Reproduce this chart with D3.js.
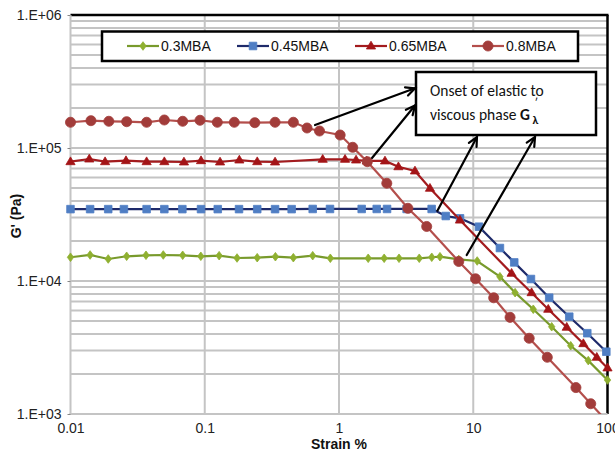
<!DOCTYPE html>
<html><head><meta charset="utf-8">
<script src="https://cdn.jsdelivr.net/npm/d3@7"></script>
<style>html,body{margin:0;padding:0;background:#fff}svg{display:block}</style>
</head><body><svg id="c" width="615" height="452"></svg>
<script>
// ---- data ----
const seriesNames = ["0.3MBA", "0.45MBA", "0.65MBA", "0.8MBA"];
const strain03 = [0.01,0.014,0.0191,0.0262,0.0365,0.0491,0.0685,0.0935,0.128,0.174,0.246,0.336,0.457,0.637,0.862,1.65,2.17,2.8,3.96,4.91,5.65,7.8,10.7,15.8,20.5,28,38.4,53.2,71.9,100];
const g03 = [15080,15690,14640,15340,15610,15690,15610,15340,15500,14890,14970,15230,14970,15500,14820,14820,14820,14820,14820,15080,15230,14520,14140,10770,8170,6130,4530,3260,2520,1800];
const strain045 = [0.01,0.014,0.0191,0.025,0.0369,0.05,0.0681,0.0938,0.125,0.18,0.246,0.334,0.444,0.637,0.857,1.476,1.91,2.28,3.19,4.9,6.24,7.97,11.03,15.8,20.2,26.9,36.8,51.9,70.7,98];
const g045 = [34700,34700,34700,34700,34700,34700,34700,34700,34700,34700,34700,34700,34700,34800,34800,34800,34800,34800,34800,34800,30800,29600,25600,17700,13800,10350,7490,5390,4050,2940];
const strain065 = [0.01,0.0138,0.0181,0.0259,0.0369,0.05,0.07,0.0938,0.13,0.181,0.246,0.334,0.756,1.109,1.34,1.61,2.2,2.77,3.68,4.76,7.96,19.3,27.2,36.2,49.7,66.1,83.2,100];
const g065 = [78900,82650,78900,80300,78900,78900,78500,80300,78500,81250,78900,78500,82200,82200,81250,79900,79900,72300,67200,49800,28700,11430,8170,6130,4490,3380,2670,2220];
const strain08 = [0.01,0.0142,0.0193,0.0262,0.0369,0.05,0.0685,0.0922,0.124,0.166,0.236,0.334,0.457,0.578,0.716,1.02,1.265,1.625,2.27,3.26,4.5,7.8,10.4,14.2,18.8,26.1,35.6,58.2,75,100];
const g08 = [156100,160500,158800,157700,156100,162400,158800,161600,156100,156100,155000,156100,156100,141400,134200,125200,101200,78900,54300,35200,25700,14020,10390,7480,5330,3710,2670,1580,1195,870];
const xTicks = [0.01, 0.1, 1, 10, 100];
const yTicks = [1e3, 1e4, 1e5, 1e6];
const xTitle = "Strain %";
const yTitle = "G' (Pa)";
// annotation arrows: [tailStrain, tailG, headStrain, headG]
const arrows = [
  [0.663, 148900, 3.68, 281100],
  [1.762, 84080, 3.68, 208700],
  [5.42, 33890, 10.66, 121000],
  [8.94, 15690, 28.84, 121000]
];
const noteBox = [3.746, 372700, 82.1, 125200];

// ---- chart ----
const svg = d3.select("#c");
const L = 70.5, R = 607.5, T = 15, B = 414;
const x = d3.scaleLog().domain([0.01, 100]).range([L, R]);
const y = d3.scaleLog().domain([1e3, 1e6]).range([B, T]);
const gridC = "#c4c4c4";
const tickFont = "Liberation Sans, Arial, sans-serif";

// gridlines
const minorY = [];
for (let k = 3; k < 6; k++) for (let m = 1; m < 10; m++) minorY.push(m * Math.pow(10, k));
svg.append("g").selectAll("line").data(minorY.filter(v => v > 1e3)).join("line")
  .attr("x1", L).attr("x2", R).attr("y1", d => y(d)).attr("y2", d => y(d))
  .attr("stroke", gridC).attr("stroke-width", 2);
svg.append("g").selectAll("line").data(xTicks.slice(1, -1)).join("line")
  .attr("x1", d => x(d)).attr("x2", d => x(d)).attr("y1", T).attr("y2", B)
  .attr("stroke", gridC).attr("stroke-width", 2);

// frame
svg.append("line").attr("x1", L).attr("x2", R + 1).attr("y1", T).attr("y2", T).attr("stroke", "#000").attr("stroke-width", 2.5);
svg.append("line").attr("x1", R).attr("x2", R).attr("y1", T).attr("y2", B).attr("stroke", "#000").attr("stroke-width", 2.5);
svg.append("line").attr("x1", L).attr("x2", L).attr("y1", T).attr("y2", B + 1).attr("stroke", gridC).attr("stroke-width", 2);
svg.append("line").attr("x1", L - 1).attr("x2", R).attr("y1", B).attr("y2", B).attr("stroke", gridC).attr("stroke-width", 2);

// axes
const ya = svg.append("g").attr("transform", `translate(${L},0)`)
  .call(d3.axisLeft(y).tickValues(yTicks).tickSize(3).tickPadding(6)
    .tickFormat(d => "1.E+0" + Math.round(Math.log10(d))));
const xa = svg.append("g").attr("transform", `translate(0,${B})`)
  .call(d3.axisBottom(x).tickValues(xTicks).tickSize(0).tickPadding(9)
    .tickFormat(d => String(d)));
[ya, xa].forEach(a => {
  a.select(".domain").remove();
  a.selectAll("line").attr("stroke", "#888");
  a.selectAll("text").attr("font-family", tickFont).attr("font-size", 14).attr("fill", "#222");
});

svg.append("text").attr("x", 339).attr("y", 449).attr("text-anchor", "middle")
  .attr("font-family", tickFont).attr("font-weight", "bold").attr("font-size", 14).attr("fill", "#111").text(xTitle);
svg.append("text").attr("transform", "translate(21,216) rotate(-90)").attr("text-anchor", "middle")
  .attr("font-family", tickFont).attr("font-weight", "bold").attr("font-size", 14).attr("fill", "#111").text(yTitle);

// series
const markers = {
  diamond: "M0,-4.3L3.2,0L0,4.3L-3.2,0Z",
  square: "M-3.8,-3.8H3.8V3.8H-3.8Z",
  triangle: "M0,-4.8L4.6,3L-4.6,3Z",
  circle: d3.symbol(d3.symbolCircle, 80)()
};
const series = [
  {name: seriesNames[0], xs: strain03, ys: g03, line: "#789a2c", fill: "#8fb030", m: "diamond"},
  {name: seriesNames[1], xs: strain045, ys: g045, line: "#1e2a6a", fill: "#4f7ec4", m: "square"},
  {name: seriesNames[2], xs: strain065, ys: g065, line: "#a31b1e", fill: "#a31417", m: "triangle"},
  {name: seriesNames[3], xs: strain08, ys: g08, line: "#b44f4c", fill: "#a23c3a", m: "circle"}
];
svg.append("defs").append("clipPath").attr("id", "clipB")
  .append("rect").attr("x", 0).attr("y", 0).attr("width", 615).attr("height", B);
const line = d3.line().x(d => x(d[0])).y(d => y(d[1]));
const plot = svg.append("g").attr("clip-path", "url(#clipB)");
series.forEach(s => {
  const pts = s.xs.map((v, i) => [v, s.ys[i]]);
  plot.append("path").datum(pts).attr("d", line).attr("fill", "none")
    .attr("stroke", s.line).attr("stroke-width", 2.2);
  plot.append("g").selectAll("path").data(pts).join("path")
    .attr("d", markers[s.m]).attr("transform", d => `translate(${x(d[0])},${y(d[1])})`)
    .attr("fill", s.fill).attr("stroke", s.fill).attr("stroke-width", 0.8);
});

// legend
const lg = svg.append("g");
lg.append("rect").attr("x", 102).attr("y", 31.5).attr("width", 476).attr("height", 29.5)
  .attr("fill", "#fff").attr("stroke", "#000").attr("stroke-width", 2.5);
const lx = [127, 237, 355, 472];
series.forEach((s, i) => {
  const g = lg.append("g").attr("transform", `translate(${lx[i]},46)`);
  g.append("line").attr("x1", 0).attr("x2", 32).attr("stroke", s.line).attr("stroke-width", 2.2);
  g.append("path").attr("d", markers[s.m]).attr("transform", "translate(16,0)").attr("fill", s.fill).attr("stroke", s.fill).attr("stroke-width", 0.8);
  g.append("text").attr("x", 34).attr("y", 5).attr("font-family", tickFont).attr("font-size", 14).attr("fill", "#111").text(s.name);
});

// annotation box
const bx0 = x(noteBox[0]), by0 = y(noteBox[1]), bx1 = x(noteBox[2]), by1 = y(noteBox[3]);
svg.append("rect").attr("x", bx0).attr("y", by0).attr("width", bx1 - bx0).attr("height", by1 - by0)
  .attr("fill", "#fff").attr("stroke", "#000").attr("stroke-width", 2.5);
const noteFont = "Carlito, Lato, sans-serif";
svg.append("text").attr("x", bx0 + 14).attr("y", by0 + 24).attr("font-family", noteFont).attr("font-size", 15.5).attr("fill", "#111")
  .text("Onset of elastic to");
const t2 = svg.append("text").attr("x", bx0 + 14).attr("y", by0 + 48).attr("font-family", noteFont).attr("font-size", 15.5).attr("fill", "#111");
t2.append("tspan").text("viscous phase ");
t2.append("tspan").attr("font-weight", "bold").text("G");
t2.append("tspan").attr("dy", 4).attr("font-size", 12).attr("font-weight", "bold").text(" λ");
svg.append("text").attr("x", bx0 + 119).attr("y", by0 + 35).attr("font-family", noteFont).attr("font-size", 12).attr("fill", "#111").text("ʹ");

// arrows
const ag = svg.append("g").attr("stroke", "#000").attr("stroke-width", 2.2).attr("fill", "none").attr("stroke-linecap", "round");
arrows.forEach(a => {
  const x1 = x(a[0]), y1 = y(a[1]), x2 = x(a[2]), y2 = y(a[3]);
  const ang = Math.atan2(y2 - y1, x2 - x1), hl = 10, ha = Math.PI / 7;
  ag.append("line").attr("x1", x1).attr("y1", y1).attr("x2", x2).attr("y2", y2);
  ag.append("path").attr("d",
    `M${x2 - hl * Math.cos(ang - ha)},${y2 - hl * Math.sin(ang - ha)}L${x2},${y2}L${x2 - hl * Math.cos(ang + ha)},${y2 - hl * Math.sin(ang + ha)}`);
});
</script></body></html>
